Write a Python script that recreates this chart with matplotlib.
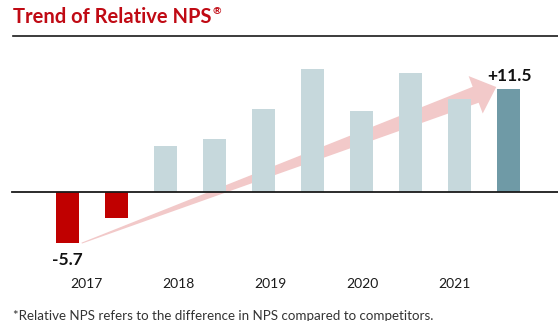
import matplotlib
matplotlib.use("Agg")
import matplotlib.pyplot as plt
import numpy as np
from matplotlib.patches import Polygon

plt.rcParams["font.family"] = ["Lato", "DejaVu Sans"]

# two half-year results per year
years = ["2017", "2018", "2019", "2020", "2021"]
values = [-5.7, -2.9, 5.1, 5.9, 9.2, 13.7, 9.0, 13.3, 10.4, 11.5]
bar_colors = ["#C00000", "#C00000", "#C6D8DC", "#C6D8DC", "#C6D8DC",
              "#C6D8DC", "#C6D8DC", "#C6D8DC", "#C6D8DC", "#6F9AA6"]
first_label = "-5.7"
last_label = "+11.5"
footnote = "*Relative NPS refers to the difference in NPS compared to competitors."

W, H, DPI = 558, 321, 100
fig = plt.figure(figsize=(W / DPI, H / DPI), dpi=DPI)
ax = fig.add_axes([0, 0, 1, 1])
ax.set_xlim(-1.378, 10.01)
ax.set_ylim(-14.38, 21.4)
ax.axis("off")

x = np.arange(len(values))
ax.bar(x, values, width=0.47, color=bar_colors, zorder=3)

# baseline
ax.axhline(0, xmin=12 / W, xmax=1, color="#1a1a1a", lw=1.3, zorder=4)

# tapered trend arrow from the first bar's bottom to the last bar's top,
# drawn behind the bars
to_px = ax.transData.transform
tail = to_px((x[0] + 0.29, values[0]))
tip = to_px((x[-1] - 0.25, values[-1] + 0.2))
u = (tip - tail) / np.linalg.norm(tip - tail)
n = np.array([-u[1], u[0]])
base = tip - u * 22
pts_px = [tail + n * 0.5, base + n * 8.5, base + n * 20, tip,
          base - n * 20, base - n * 8.5, tail - n * 0.5]
pts = ax.transData.inverted().transform(np.array(pts_px))
ax.add_patch(Polygon(pts, closed=True, facecolor="#F2C9C9", edgecolor="none", zorder=2))

ax.text(x[0], values[0] - 1.0, first_label, ha="center", va="top",
        fontsize=12.5, fontweight="bold", color="#111111", zorder=6)
ax.text(x[-1] + 0.03, values[-1] + 0.55, last_label, ha="center", va="bottom",
        fontsize=12.5, fontweight="bold", color="#111111", zorder=6)

# year labels
for k, yr in enumerate(years):
    ax.text(0.38 + 1.88 * k, -10.3, yr, ha="center", va="center",
            fontsize=10, color="#1a1a1a")

# title with underline
title = fig.text(13 / W, 1 - 17 / H, "Trend of Relative NPS", ha="left", va="center",
                 fontsize=14.5, fontweight="bold", color="#C00A14")
r = fig.canvas.get_renderer()
bb = title.get_window_extent(r)
fig.text(bb.x1 / W + 0.002, 1 - 12 / H, "®", ha="left", va="center",
         fontsize=7.5, fontweight="bold", color="#C00A14")
fig.add_artist(plt.Line2D([13 / W, 1], [1 - 36 / H, 1 - 36 / H],
                          color="#1a1a1a", lw=1.2))

fig.text(13 / W, 1 - 316 / H, footnote, ha="left", va="center",
         fontsize=9.65, color="#333333")

fig.savefig("out.png", dpi=DPI)
